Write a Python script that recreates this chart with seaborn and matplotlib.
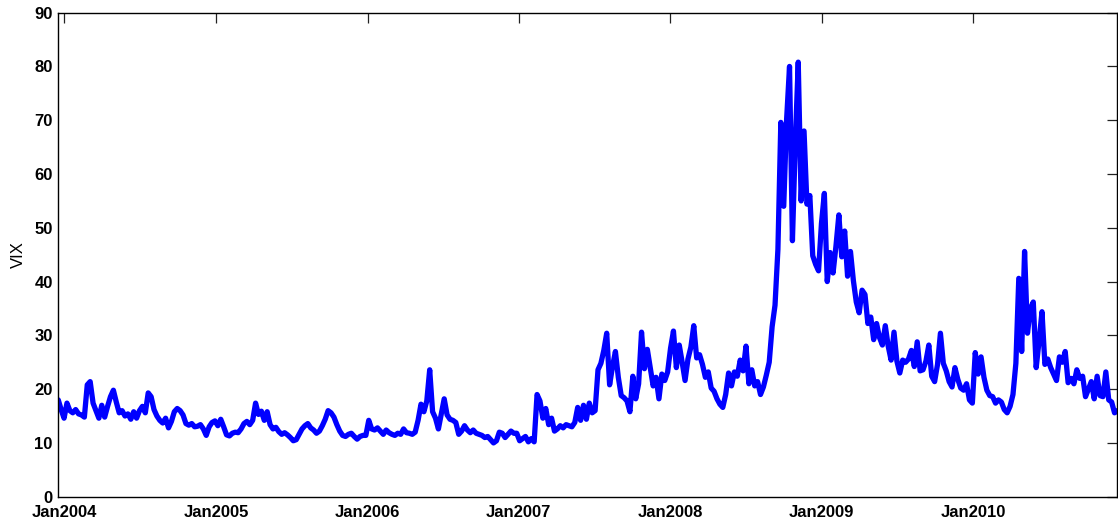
import numpy as np
import pandas as pd
import matplotlib
matplotlib.use("Agg")
import matplotlib.pyplot as plt
import matplotlib.dates as mdates
import seaborn as sns

# Weekly VIX readings, one list per calendar year of the plotted span
vix_2004 = [18.0, 16.2, 14.6, 17.4, 16.0, 15.6, 16.2, 15.4, 15.2, 14.8,
            20.8, 21.4, 17.4, 16.0, 14.6, 17.0, 14.8, 16.8, 18.6, 19.8,
            17.6, 15.6, 16.0, 15.0, 15.4, 14.4, 15.8, 14.6, 16.0, 16.8,
            15.6, 19.3, 18.6, 16.2, 15.0, 14.2, 13.7, 14.6, 12.8, 14.0,
            15.8, 16.4, 16.0, 15.2, 13.6, 13.3, 13.6, 13.0, 13.1, 13.4,
            12.6, 11.4, 13.0, 13.8]
vix_2005 = [14.1, 13.2, 14.4, 13.0, 11.5, 11.3, 11.8, 12.0, 11.9, 12.6,
            13.6, 14.0, 13.4, 14.2, 17.4, 15.3, 15.9, 14.2, 15.8, 13.4,
            12.6, 12.9, 12.1, 11.6, 11.9, 11.5, 11.0, 10.4, 10.6, 11.6,
            12.6, 13.2, 13.6, 12.8, 12.4, 11.8, 12.2, 13.2, 14.4, 16.0,
            15.6, 14.8, 13.4, 12.2, 11.4, 11.2, 11.6, 11.8, 11.2, 10.7,
            11.2, 11.4]
vix_2006 = [11.4, 14.2, 12.6, 12.4, 12.8, 12.2, 11.6, 12.4, 11.9, 11.6,
            11.4, 11.8, 11.6, 12.6, 11.9, 11.8, 11.6, 12.0, 14.2, 17.2,
            15.8, 17.8, 23.6, 15.8, 14.6, 12.6, 15.4, 18.2, 15.2, 14.4,
            14.2, 13.8, 11.6, 12.2, 13.2, 12.4, 11.9, 12.4, 11.8, 11.6,
            11.4, 11.0, 11.2, 10.6, 10.0, 10.4, 12.0, 11.8, 11.0, 11.6,
            12.2, 11.8]
vix_2007 = [11.8, 10.4, 10.8, 11.2, 10.2, 10.8, 10.2, 19.0, 17.8, 14.6,
            16.4, 13.4, 14.6, 12.2, 12.6, 13.2, 12.8, 13.4, 13.2, 13.0,
            13.8, 16.6, 14.2, 17.0, 14.4, 17.4, 15.6, 16.0, 23.6, 24.8,
            27.2, 30.4, 20.8, 24.2, 27.0, 22.2, 18.8, 18.4, 17.8, 15.8,
            22.4, 18.2, 21.0, 30.6, 23.8, 27.4, 24.0, 20.6, 22.2, 18.2,
            22.8, 21.6]
vix_2008 = [23.2, 27.6, 30.8, 24.0, 28.2, 25.0, 21.6, 25.6, 27.8, 31.8,
            25.8, 26.4, 24.6, 22.2, 23.2, 20.2, 19.6, 18.2, 17.2, 16.6,
            19.0, 23.0, 20.6, 23.2, 22.4, 25.4, 23.4, 28.0, 21.0, 23.6,
            20.6, 21.4, 19.0, 20.4, 22.6, 25.0, 31.6, 35.6, 46.0, 69.6,
            54.0, 70.2, 80.0, 47.6, 66.0, 80.8, 55.0, 68.0, 54.4, 56.0,
            44.8, 43.2]
vix_2009 = [42.0, 50.8, 56.4, 40.0, 45.4, 41.6, 46.6, 52.4, 44.6, 49.4,
            41.0, 45.6, 40.2, 36.2, 34.2, 38.4, 37.6, 32.2, 33.4, 29.2,
            32.2, 29.6, 28.2, 31.8, 28.0, 25.4, 30.6, 25.2, 23.0, 25.4,
            25.0, 25.6, 27.2, 24.2, 28.8, 23.4, 23.6, 25.2, 28.2, 22.4,
            21.4, 24.6, 30.4, 24.8, 23.4, 21.4, 20.4, 24.0, 21.8, 20.2,
            19.8, 21.0]
vix_2010 = [18.0, 17.4, 26.8, 22.8, 26.0, 22.2, 19.8, 18.8, 18.6, 17.4,
            18.0, 17.6, 16.2, 15.6, 16.8, 19.0, 24.8, 40.6, 27.0, 45.6,
            30.4, 35.0, 36.2, 24.0, 29.0, 34.4, 24.6, 25.6, 24.0, 22.8,
            21.6, 26.0, 25.0, 27.0, 21.2, 22.0, 21.0, 23.6, 22.0, 22.4,
            18.6, 20.0, 21.4, 18.2, 22.4, 18.8, 18.6, 23.2, 18.0, 17.6,
            15.6, 16.0]

vix = np.concatenate([vix_2004, vix_2005, vix_2006, vix_2007,
                      vix_2008, vix_2009, vix_2010])
dates = pd.date_range("2003-12-17", periods=len(vix), freq="7D")
df = pd.DataFrame({"date": dates, "VIX": vix})

y_ticks = list(range(0, 91, 10))

sns.set_style("white")
plt.rcParams["font.family"] = ["Liberation Sans", "DejaVu Sans"]
plt.rcParams["text.color"] = "black"
plt.rcParams["axes.labelcolor"] = "black"
plt.rcParams["xtick.color"] = "black"
plt.rcParams["ytick.color"] = "black"

fig = plt.figure(figsize=(11.18, 5.26), dpi=100)
ax = fig.add_axes([0.0521, 0.0557, 0.9474, 0.9202])

sns.lineplot(data=df, x="date", y="VIX", color=(0, 0, 1), linewidth=3.8,
             ax=ax, legend=False)

ax.set_xlim(dates[0], dates[-1])
ax.set_ylim(0, 90)
ax.set_yticks(y_ticks)
ax.xaxis.set_major_locator(mdates.YearLocator())
ax.xaxis.set_major_formatter(mdates.DateFormatter("%b%Y"))

ax.set_xlabel("")
ax.set_ylabel("VIX", fontsize=12, labelpad=6, color="black")

for side in ["left", "right", "top", "bottom"]:
    ax.spines[side].set_visible(True)
    ax.spines[side].set_color("black")
    ax.spines[side].set_linewidth(1.0)

ax.tick_params(axis="both", which="major", direction="in", length=7,
               width=0.9, color="#222222", labelcolor="black",
               top=True, right=True, labelsize=12)
ax.tick_params(axis="x", pad=6)
ax.tick_params(axis="y", pad=4)
for lbl in ax.get_xticklabels() + ax.get_yticklabels():
    lbl.set_fontweight("bold")

fig.savefig("out.png", dpi=100)
